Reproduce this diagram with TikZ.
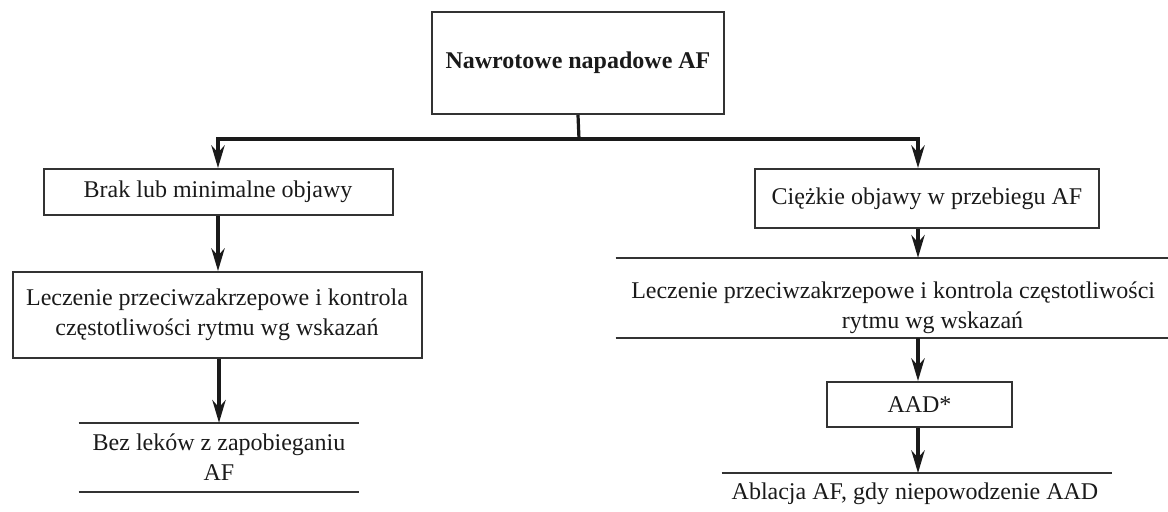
\documentclass[tikz,border=0pt]{standalone}
\usepackage{fontspec}
\setmainfont{Liberation Serif}
\usetikzlibrary{arrows.meta}
\definecolor{boxline}{HTML}{333333}
\definecolor{ink}{HTML}{1A1A1A}
\begin{document}
\begin{tikzpicture}[x=0.75pt,y=-0.75pt,
  txt/.style={inner sep=0pt, align=center, text=ink,
    font=\fontsize{18}{22.5}\selectfont},
  box/.style={txt, draw=boxline, line width=1.5pt},
  openbox/.style={txt},
  edge/.style={line width=1.5pt, draw=boxline},
  link/.style={line width=2.4pt, draw=ink},
  arr/.style={link, -{Stealth[length=17pt,width=10pt]}}
]
\useasboundingbox (0,0) rectangle (1168,511);

% root
\node[box, minimum width=219pt, minimum height=76.5pt, font=\fontsize{18}{22.5}\selectfont\bfseries]
  (root) at (578,63) {Nawrotowe napadowe AF};

% left branch
\node[box, minimum width=261.75pt, minimum height=34.5pt] (L1) at (218,192) {Brak lub minimalne objawy};
\node[box, minimum width=306.75pt, minimum height=64.5pt] (L2) at (217,315)
  {Leczenie przeciwzakrzepowe i kontrola\\częstotliwości rytmu wg wskazań};
\node[openbox, minimum width=210pt, minimum height=51.75pt] (L3) at (219,457.5)
  {Bez leków z zapobieganiu\\AF};
\draw[edge] (L3.north west) -- (L3.north east);
\draw[edge] (L3.south west) -- (L3.south east);

% right branch
\node[box, minimum width=258pt, minimum height=44.25pt] (R1) at (927,198.5) {Ciężkie objawy w przebiegu AF};
\node[openbox, minimum width=414pt, minimum height=60pt] (R2) at (892,298) {};
\node[txt, align=left, anchor=west] (R2t) at (631,308)
  {Leczenie przeciwzakrzepowe i kontrola częstotliwości\\\hspace*{158pt}rytmu wg wskazań};
\draw[edge] (R2.north west) -- (R2.north east);
\draw[edge] (R2.south west) -- (R2.south east);
\node[box, minimum width=138.75pt, minimum height=33.75pt] (AAD) at (919.5,404.5) {AAD*};
\node[openbox, minimum width=292.5pt, minimum height=40pt] (R4) at (917,500) {};
\node[txt] (R4t) at (915,494) {Ablacja AF, gdy niepowodzenie AAD};
\draw[edge] (R4.north west) -- (R4.north east);

% connectors
\coordinate (hub) at (579,139);
\coordinate (hubL) at (218,139);
\coordinate (hubR) at (918,139);
\draw[link] (root.south) -- (hub);
\draw[link, line cap=rect] (hubL) -- (hubR);
\draw[arr] (hubL) -- (hubL |- L1.north);
\draw[arr] (hubR) -- (hubR |- R1.north);
\draw[arr] (L1.south) -- (L1.south |- L2.north);
\draw[arr] (L2.south -| L3.north) -- (L3.north);
\draw[arr] (R1.south -| hubR) -- (hubR |- R2.north);
\draw[arr] (hubR |- R2.south) -- (hubR |- AAD.north);
\draw[arr] (hubR |- AAD.south) -- (hubR |- R4.north);
\end{tikzpicture}
\end{document}
